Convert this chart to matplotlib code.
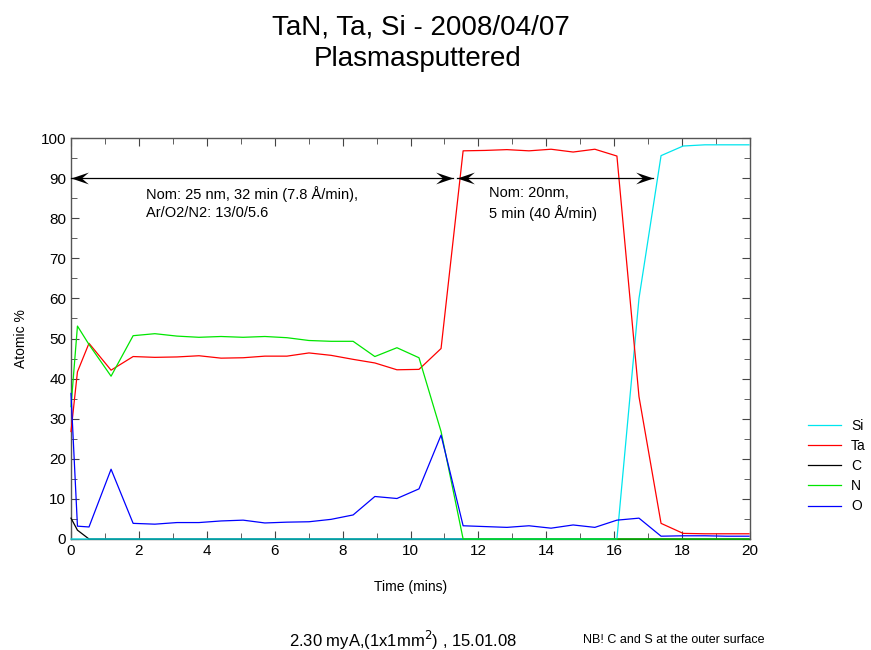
import matplotlib
matplotlib.use("Agg")
import matplotlib.pyplot as plt
from matplotlib.ticker import MultipleLocator
from matplotlib.path import Path
from matplotlib.markers import MarkerStyle

plt.rcParams['font.family'] = ['Liberation Sans', 'DejaVu Sans']

time_min = [0.0, 0.19, 0.53, 1.18, 1.83, 2.47, 3.12, 3.77, 4.42, 5.07, 5.71,
            6.36, 7.01, 7.66, 8.31, 8.95, 9.60, 10.25, 10.90, 11.55, 12.19,
            12.84, 13.49, 14.14, 14.79, 15.43, 16.08, 16.73, 17.38, 18.03,
            18.67, 19.32, 19.97]

si = [0, 0, 0, 0, 0, 0, 0, 0, 0, 0, 0, 0, 0, 0, 0, 0, 0, 0, 0, 0, 0,
      0, 0, 0, 0, 0, 0, 60.0, 95.6, 98.0, 98.3, 98.3, 98.3]
ta = [26.8, 41.7, 48.8, 42.1, 45.5, 45.3, 45.4, 45.7, 45.1, 45.2, 45.6,
      45.6, 46.4, 45.8, 44.8, 43.9, 42.2, 42.3, 47.5, 96.8, 96.9,
      97.1, 96.8, 97.2, 96.5, 97.2, 95.5, 35.5, 3.9, 1.4, 1.3, 1.3, 1.3]
c = [5.2, 2.2, 0, 0, 0, 0, 0, 0, 0, 0, 0, 0, 0, 0, 0, 0, 0, 0, 0, 0, 0,
     0, 0, 0, 0, 0, 0, 0, 0, 0, 0, 0, 0]
n = [33.0, 53.1, 48.5, 40.6, 50.7, 51.2, 50.6, 50.3, 50.5, 50.3, 50.5,
     50.2, 49.5, 49.3, 49.3, 45.5, 47.7, 45.2, 26.8, 0, 0,
     0, 0, 0, 0, 0, 0, 0, 0, 0, 0, 0, 0]
o = [36.3, 3.2, 3.0, 17.4, 3.9, 3.7, 4.1, 4.1, 4.5, 4.7, 4.0,
     4.2, 4.3, 4.9, 6.0, 10.6, 10.1, 12.5, 25.9, 3.3, 3.1,
     2.9, 3.3, 2.7, 3.5, 2.9, 4.7, 5.2, 0.7, 0.8, 0.8, 0.7, 0.7]

series_names = ["Si", "Ta", "C", "N", "O"]
series_colors = ["#00e5ee", "#ff0000", "#000000", "#00e600", "#0000ff"]

# arrow spans (time, mins) at 90 atomic %
arrow_spans = [(0.0, 11.26), (11.36, 17.13)]
arrow_level = 90

fig = plt.figure(figsize=(8.71, 6.5), dpi=100)
ax = fig.add_axes([71 / 871, 1 - 539 / 650, (750 - 71) / 871, (539 - 138) / 650])

data = dict(zip(series_names, [si, ta, c, n, o]))
cols = dict(zip(series_names, series_colors))
lines = {}
for name in ["C", "Si", "Ta", "N", "O"]:
    ln, = ax.plot(time_min, data[name], color=cols[name], lw=0.9, label=name,
                  clip_on=False, zorder=3)
    lines[name] = ln

ax.set_xlim(0, 20)
ax.set_ylim(0, 100)
ax.xaxis.set_major_locator(MultipleLocator(2))
ax.xaxis.set_minor_locator(MultipleLocator(1))
ax.yaxis.set_major_locator(MultipleLocator(10))
ax.yaxis.set_minor_locator(MultipleLocator(5))
ax.tick_params(which='both', direction='in', top=True, right=True,
               color='#444444', labelsize=11)
ax.tick_params(which='major', length=6)
ax.tick_params(which='minor', length=4)
for sp in ax.spines.values():
    sp.set_color('#555555')
    sp.set_linewidth(1.0)

ax.set_xlabel("Time (mins)", fontsize=10, labelpad=16)
ax.set_ylabel("Atomic %", fontsize=10, labelpad=9)

# notched arrowheads as custom markers (tip at marker origin)
left_head = Path([(0, 0), (1, 0.34), (0.6, 0), (1, -0.34), (0, 0)],
                 [Path.MOVETO, Path.LINETO, Path.LINETO, Path.LINETO, Path.CLOSEPOLY])
right_head = Path([(0, 0), (-1, 0.34), (-0.6, 0), (-1, -0.34), (0, 0)],
                  [Path.MOVETO, Path.LINETO, Path.LINETO, Path.LINETO, Path.CLOSEPOLY])
for x0, x1 in arrow_spans:
    ax.plot([x0, x1], [arrow_level, arrow_level], color='black', lw=0.9,
            clip_on=False, zorder=4)
    ax.plot([x0], [arrow_level], marker=MarkerStyle(left_head), ms=25,
            color='black', mew=0, clip_on=False, zorder=4)
    ax.plot([x1], [arrow_level], marker=MarkerStyle(right_head), ms=25,
            color='black', mew=0, clip_on=False, zorder=4)

ax.text(2.2, 88.0, "Nom: 25 nm, 32 min (7.8 Å/min),\nAr/O2/N2: 13/0/5.6",
        fontsize=10.5, va='top', ha='left', linespacing=1.35)
ax.text(12.3, 88.0, "Nom: 20nm,\n5 min (40 Å/min)",
        fontsize=10.5, va='top', ha='left', linespacing=1.35)

fig.text(421 / 871, 1 - 35 / 650, "TaN, Ta, Si - 2008/04/07",
         ha='center', va='baseline', fontsize=20)
fig.text(418 / 871, 1 - 66 / 650, "Plasmasputtered",
         ha='center', va='baseline', fontsize=20)

fig.text(403 / 871, 1 - 640 / 650, "2.30 myA,(1x1mm$^2$) , 15.01.08",
         ha='center', va='center', fontsize=12)
fig.text(674 / 871, 1 - 640 / 650, "NB! C and S at the outer surface",
         ha='center', va='center', fontsize=9)

handles = [lines[nm] for nm in series_names]
fig.legend(handles, series_names, loc='center left',
           bbox_to_anchor=(808 / 871, 1 - 466 / 650), frameon=False,
           fontsize=10, handlelength=2.4, handletextpad=0.7,
           labelspacing=0.45, borderpad=0, borderaxespad=0)

fig.savefig("out.png", dpi=100)
